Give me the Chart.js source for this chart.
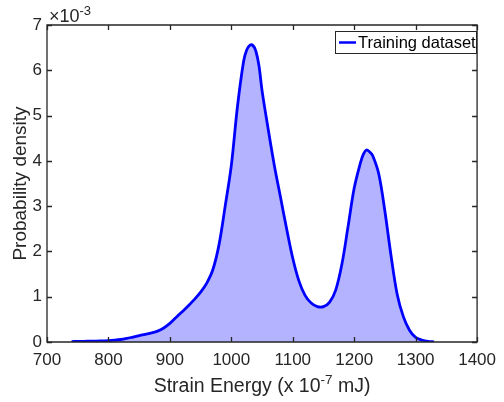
<!DOCTYPE html>
<html>
<head>
<meta charset="utf-8">
<script src="https://cdn.jsdelivr.net/npm/chart.js@4/dist/chart.umd.min.js"></script>
<style>
  html, body { margin: 0; padding: 0; background: #ffffff; }
  #wrap { width: 504px; height: 402px; }
</style>
</head>
<body>
<div id="wrap"><canvas id="c" width="504" height="402"></canvas></div>
<script>
// Strain energy samples (x 10^-7 mJ)
const energies = [
  740, 750, 760, 770, 780, 790, 800, 810, 820, 830, 840, 850, 860, 870, 880, 890,
  900, 910, 920, 930, 940, 950, 960, 970, 980, 990, 1000, 1010, 1020, 1025, 1030,
  1035, 1040, 1045, 1050, 1060, 1070, 1080, 1090, 1100, 1110, 1120, 1130, 1140,
  1150, 1160, 1170, 1180, 1190, 1200, 1210, 1215, 1220, 1225, 1230, 1240, 1250,
  1260, 1270, 1280, 1290, 1300, 1310, 1320, 1330
];
// Estimated probability density (x 10^-3)
const density = [
  0.01, 0.012, 0.015, 0.018, 0.02, 0.025, 0.03, 0.04, 0.055, 0.08, 0.11, 0.14, 0.17, 0.2, 0.24, 0.31,
  0.41, 0.54, 0.67, 0.8, 0.94, 1.1, 1.3, 1.6, 2.15, 3.0, 3.9, 5.2, 6.2, 6.45, 6.55,
  6.55, 6.42, 6.1, 5.55, 4.7, 3.9, 3.2, 2.5, 1.85, 1.35, 1.03, 0.86, 0.78,
  0.78, 0.88, 1.15, 1.72, 2.55, 3.4, 3.95, 4.15, 4.24, 4.2, 4.12, 3.71, 2.88,
  1.9, 1.05, 0.56, 0.26, 0.1, 0.045, 0.015, 0.005
];
const xTicks = [700, 800, 900, 1000, 1100, 1200, 1300, 1400];
const yTicks = [0, 1, 2, 3, 4, 5, 6, 7];
const seriesLabel = 'Training dataset';

const FONT = '"Liberation Sans", Arial, Helvetica, sans-serif';
const AXIS_COLOR = '#262626';

const points = energies.map((e, i) => ({ x: e, y: density[i] }));

// Boxed axes with inward ticks, exponent marker, axis titles and legend
const matlabAxes = {
  id: 'matlabAxes',
  afterDatasetsDraw(chart) {
    const { ctx, chartArea: a, scales } = chart;
    const xs = scales.x, ys = scales.y;
    const tl = 5;
    ctx.save();
    ctx.strokeStyle = AXIS_COLOR;
    ctx.lineWidth = 1.3;
    ctx.beginPath();
    ctx.rect(a.left, a.top, a.right - a.left, a.bottom - a.top);
    ctx.stroke();
    ctx.beginPath();
    xTicks.forEach(v => {
      const px = Math.round(xs.getPixelForValue(v)) + 0.5;
      ctx.moveTo(px, a.bottom); ctx.lineTo(px, a.bottom - tl);
      ctx.moveTo(px, a.top); ctx.lineTo(px, a.top + tl);
    });
    yTicks.forEach(v => {
      const py = Math.round(ys.getPixelForValue(v)) + 0.5;
      ctx.moveTo(a.left, py); ctx.lineTo(a.left + tl, py);
      ctx.moveTo(a.right, py); ctx.lineTo(a.right - tl, py);
    });
    ctx.stroke();
    ctx.restore();
  },
  afterDraw(chart) {
    const { ctx, chartArea: a } = chart;
    ctx.save();
    ctx.fillStyle = AXIS_COLOR;
    ctx.textBaseline = 'alphabetic';

    // exponent marker above the y axis
    ctx.textAlign = 'left';
    ctx.font = '18px ' + FONT;
    const base = '\u00d710';
    ctx.fillText(base, a.left + 2, 22);
    const bw = ctx.measureText(base).width;
    ctx.font = '13px ' + FONT;
    ctx.fillText('-3', a.left + 2 + bw, 15);

    // y axis title
    ctx.save();
    ctx.translate(26, (a.top + a.bottom) / 2);
    ctx.rotate(-Math.PI / 2);
    ctx.textAlign = 'center';
    ctx.font = '19px ' + FONT;
    ctx.fillText('Probability density', 0, 0);
    ctx.restore();

    // x axis title with superscript
    const p1 = 'Strain Energy (x 10', sup = '-7', p2 = ' mJ)';
    ctx.font = '19.5px ' + FONT;
    const w1 = ctx.measureText(p1).width, w3 = ctx.measureText(p2).width;
    ctx.font = '13.5px ' + FONT;
    const w2 = ctx.measureText(sup).width;
    let x0 = (a.left + a.right) / 2 - (w1 + w2 + w3) / 2;
    const by = 392;
    ctx.textAlign = 'left';
    ctx.font = '19.5px ' + FONT;
    ctx.fillText(p1, x0, by);
    ctx.font = '13.5px ' + FONT;
    ctx.fillText(sup, x0 + w1, by - 8);
    ctx.font = '19.5px ' + FONT;
    ctx.fillText(p2, x0 + w1 + w2, by);

    // legend box
    const lx = 335, ly = 31, lw = 141, lh = 22;
    ctx.fillStyle = '#ffffff';
    ctx.fillRect(lx, ly, lw, lh);
    ctx.strokeStyle = AXIS_COLOR;
    ctx.lineWidth = 1;
    ctx.strokeRect(lx + 0.5, ly + 0.5, lw, lh);
    ctx.strokeStyle = '#0000ff';
    ctx.lineWidth = 2.5;
    ctx.beginPath();
    ctx.moveTo(lx + 4, ly + 11.5);
    ctx.lineTo(lx + 21, ly + 11.5);
    ctx.stroke();
    ctx.fillStyle = '#000000';
    ctx.font = '16.5px ' + FONT;
    ctx.fillText(seriesLabel, lx + 23, ly + 17);
    ctx.restore();
  }
};

new Chart(document.getElementById('c'), {
  type: 'line',
  data: {
    datasets: [{
      label: seriesLabel,
      data: points,
      borderColor: '#0000ff',
      borderWidth: 2.8,
      backgroundColor: 'rgb(179,179,255)',
      fill: 'origin',
      pointRadius: 0,
      tension: 0.35,
      borderJoinStyle: 'round'
    }]
  },
  options: {
    responsive: false,
    devicePixelRatio: 1,
    animation: false,
    layout: { padding: { left: 0, right: 19, top: 25, bottom: 0 } },
    plugins: { legend: { display: false }, tooltip: { enabled: false } },
    scales: {
      x: {
        type: 'linear', min: 700, max: 1400,
        afterBuildTicks: s => { s.ticks = xTicks.map(v => ({ value: v })); },
        afterFit: s => { s.height = 60; },
        ticks: { color: AXIS_COLOR, font: { family: FONT, size: 17 }, padding: 8, maxRotation: 0, autoSkip: false,
                 callback: v => String(v) },
        grid: { display: false, drawTicks: false },
        border: { display: false }
      },
      y: {
        type: 'linear', min: 0, max: 7,
        afterBuildTicks: s => { s.ticks = yTicks.map(v => ({ value: v })); },
        afterFit: s => { s.width = 47; },
        ticks: { color: AXIS_COLOR, font: { family: FONT, size: 17 }, padding: 5, callback: v => String(v) },
        grid: { display: false, drawTicks: false },
        border: { display: false }
      }
    }
  },
  plugins: [matlabAxes]
});
</script>
</body>
</html>
